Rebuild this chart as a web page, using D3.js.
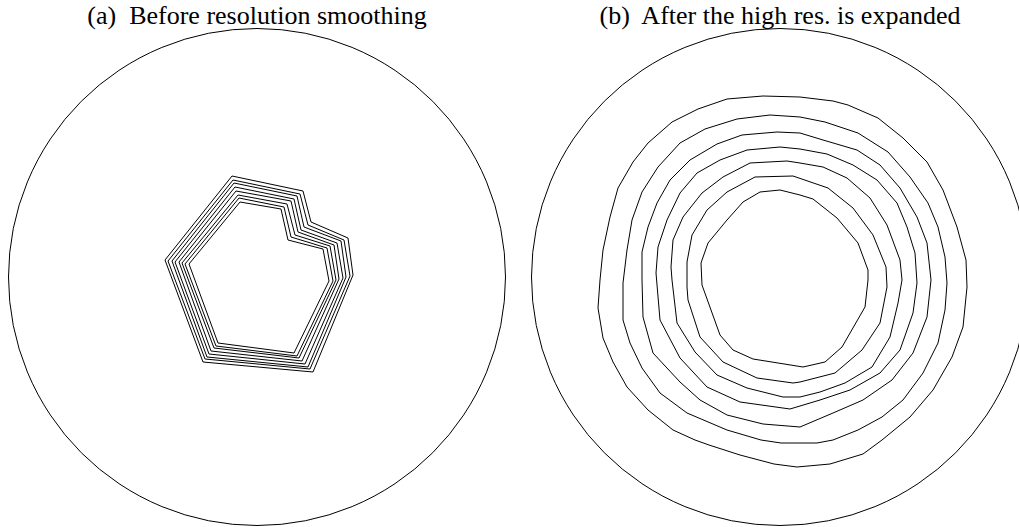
<!DOCTYPE html>
<meta charset="utf-8">
<style>
body { margin: 0; background: #fff; overflow: hidden; }
.title { font-family: 'Liberation Serif', 'Times New Roman', serif; font-size: 26px; fill: #000; }
.boundary, .contour { fill: none; stroke: #000; stroke-width: 1; }
</style>
<body>
<script src="https://d3js.org/d3.v7.min.js"></script>
<script>

// panel titles
var titleA = "(a)  Before resolution smoothing";
var titleB = "(b)  After the high res. is expanded";

// domain radius in mesh units (relative to the domain centre)
var domainRadius = 248.5;

// (a) nested contours before smoothing, outer to inner
var before1 = [[-25,-101],[46,-86],[54,-55],[91,-39],[96,-2],[56,95],[-54,85],[-92,-17]];
var before2 = [[-24,-97],[43,-83],[51,-52],[87,-37],[93,-1],[53,92],[-52,82],[-89,-16]];
var before3 = [[-23,-94],[40,-81],[47,-50],[84,-36],[89,0],[51,90],[-50,80],[-85,-16]];
var before4 = [[-22,-90],[37,-78],[44,-47],[80,-34],[86,1],[48,87],[-48,77],[-82,-15]];
var before5 = [[-21,-86],[34,-76],[41,-45],[77,-32],[82,2],[45,84],[-46,74],[-78,-15]];
var before6 = [[-19,-82],[30,-73],[38,-42],[73,-31],[79,3],[42,81],[-43,71],[-75,-14]];
var before7 = [[-18,-79],[27,-70],[34,-40],[70,-29],[76,4],[40,79],[-41,69],[-72,-13]];
var before8 = [[-17,-75],[24,-68],[31,-37],[66,-28],[72,4],[37,76],[-39,66],[-68,-13]];

// (b) contours after the high res. region is expanded, outer to inner
var after1 = [[-17,-181],[20,-180],[53,-176],[68,-172],[98,-159],[123,-139],[147,-115],[163,-87],
  [177,-50],[186,-17],[187,10],[183,50],[172,80],[153,113],[130,140],[102,163],[83,177],[50,187],
  [17,190],[-6,187],[-40,178],[-71,168],[-85,163],[-107,153],[-132,133],[-153,110],[-167,85],
  [-177,61],[-182,31],[-180,3],[-177,-27],[-170,-60],[-162,-89],[-147,-115],[-132,-134],
  [-108,-155],[-82,-168],[-53,-178]];
var after2 = [[-10,-162],[20,-160],[45,-155],[78,-144],[108,-125],[130,-100],[148,-74],[158,-50],
  [165,-20],[167,6],[165,33],[158,66],[143,96],[123,123],[102,140],[78,153],[53,163],[37,166],
  [1,166],[-19,163],[-53,153],[-93,136],[-120,116],[-138,91],[-150,66],[-157,43],[-157,6],
  [-153,-27],[-148,-57],[-138,-85],[-122,-110],[-100,-134],[-75,-148],[-43,-158]];
var after3 = [[-3,-145],[20,-144],[43,-137],[77,-127],[100,-112],[120,-89],[137,-60],[147,-34],
  [151,3],[147,40],[133,76],[112,103],[83,123],[53,136],[20,150],[-17,147],[-53,138],[-80,123],
  [-100,105],[-127,76],[-137,40],[-138,3],[-138,-25],[-132,-50],[-123,-74],[-110,-97],[-90,-117],
  [-63,-133],[-38,-142]];
var after4 = [[0,-130],[20,-128],[47,-123],[73,-112],[97,-97],[117,-74],[127,-50],[135,-24],
  [137,6],[133,36],[120,73],[100,96],[70,113],[40,123],[10,132],[-40,125],[-73,110],[-100,81],
  [-120,43],[-124,-4],[-122,-30],[-113,-57],[-100,-84],[-83,-104],[-60,-117],[-33,-127]];
var after5 = [[7,-116],[20,-114],[43,-110],[67,-99],[90,-79],[107,-52],[120,-17],[122,3],
  [118,26],[110,60],[92,90],[65,106],[40,115],[20,120],[3,120],[-33,111],[-63,98],[-85,75],
  [-103,46],[-108,3],[-109,-10],[-107,-37],[-97,-60],[-78,-84],[-57,-100],[-30,-114]];
var after6 = [[13,-101],[48,-89],[73,-69],[93,-42],[106,-10],[107,10],[100,46],[82,73],[55,96],
  [20,105],[13,106],[-23,101],[-57,85],[-80,60],[-92,23],[-93,10],[-93,-15],[-88,-42],[-73,-67],
  [-53,-85],[-25,-100]];
var after7 = [[0,-87],[20,-82],[33,-78],[57,-59],[78,-34],[88,-7],[88,3],[85,30],[62,70],[45,85],
  [23,90],[-27,82],[-47,73],[-60,58],[-78,8],[-79,-14],[-72,-34],[-53,-57],[-37,-75],[-20,-85]];

var width = 1019, height = 527;

var svg = d3.select("body").append("svg")
    .attr("width", width)
    .attr("height", height);

// layout of the two panels
var panels = [
  { title: titleA, cx: 257, cy: 277, contours: [before1, before2, before3, before4, before5, before6, before7, before8] },
  { title: titleB, cx: 780, cy: 277, contours: [after1, after2, after3, after4, after5, after6, after7] }
];

panels.forEach(function(p) {
  var x = d3.scaleLinear().domain([-250, 250]).range([p.cx - 250, p.cx + 250]);
  var y = d3.scaleLinear().domain([-250, 250]).range([p.cy - 250, p.cy + 250]);

  var line = d3.line()
      .x(function(d) { return x(d[0]); })
      .y(function(d) { return y(d[1]); })
      .curve(d3.curveLinearClosed);

  var g = svg.append("g");

  g.append("circle")
      .attr("class", "boundary")
      .attr("cx", x(0))
      .attr("cy", y(0))
      .attr("r", x(domainRadius) - x(0));

  g.selectAll(".contour")
      .data(p.contours)
    .enter().append("path")
      .attr("class", "contour")
      .attr("d", line);

  g.append("text")
      .attr("class", "title")
      .attr("x", x(0))
      .attr("y", 24)
      .attr("text-anchor", "middle")
      .style("white-space", "pre")
      .text(p.title);
});

</script>
</body>
